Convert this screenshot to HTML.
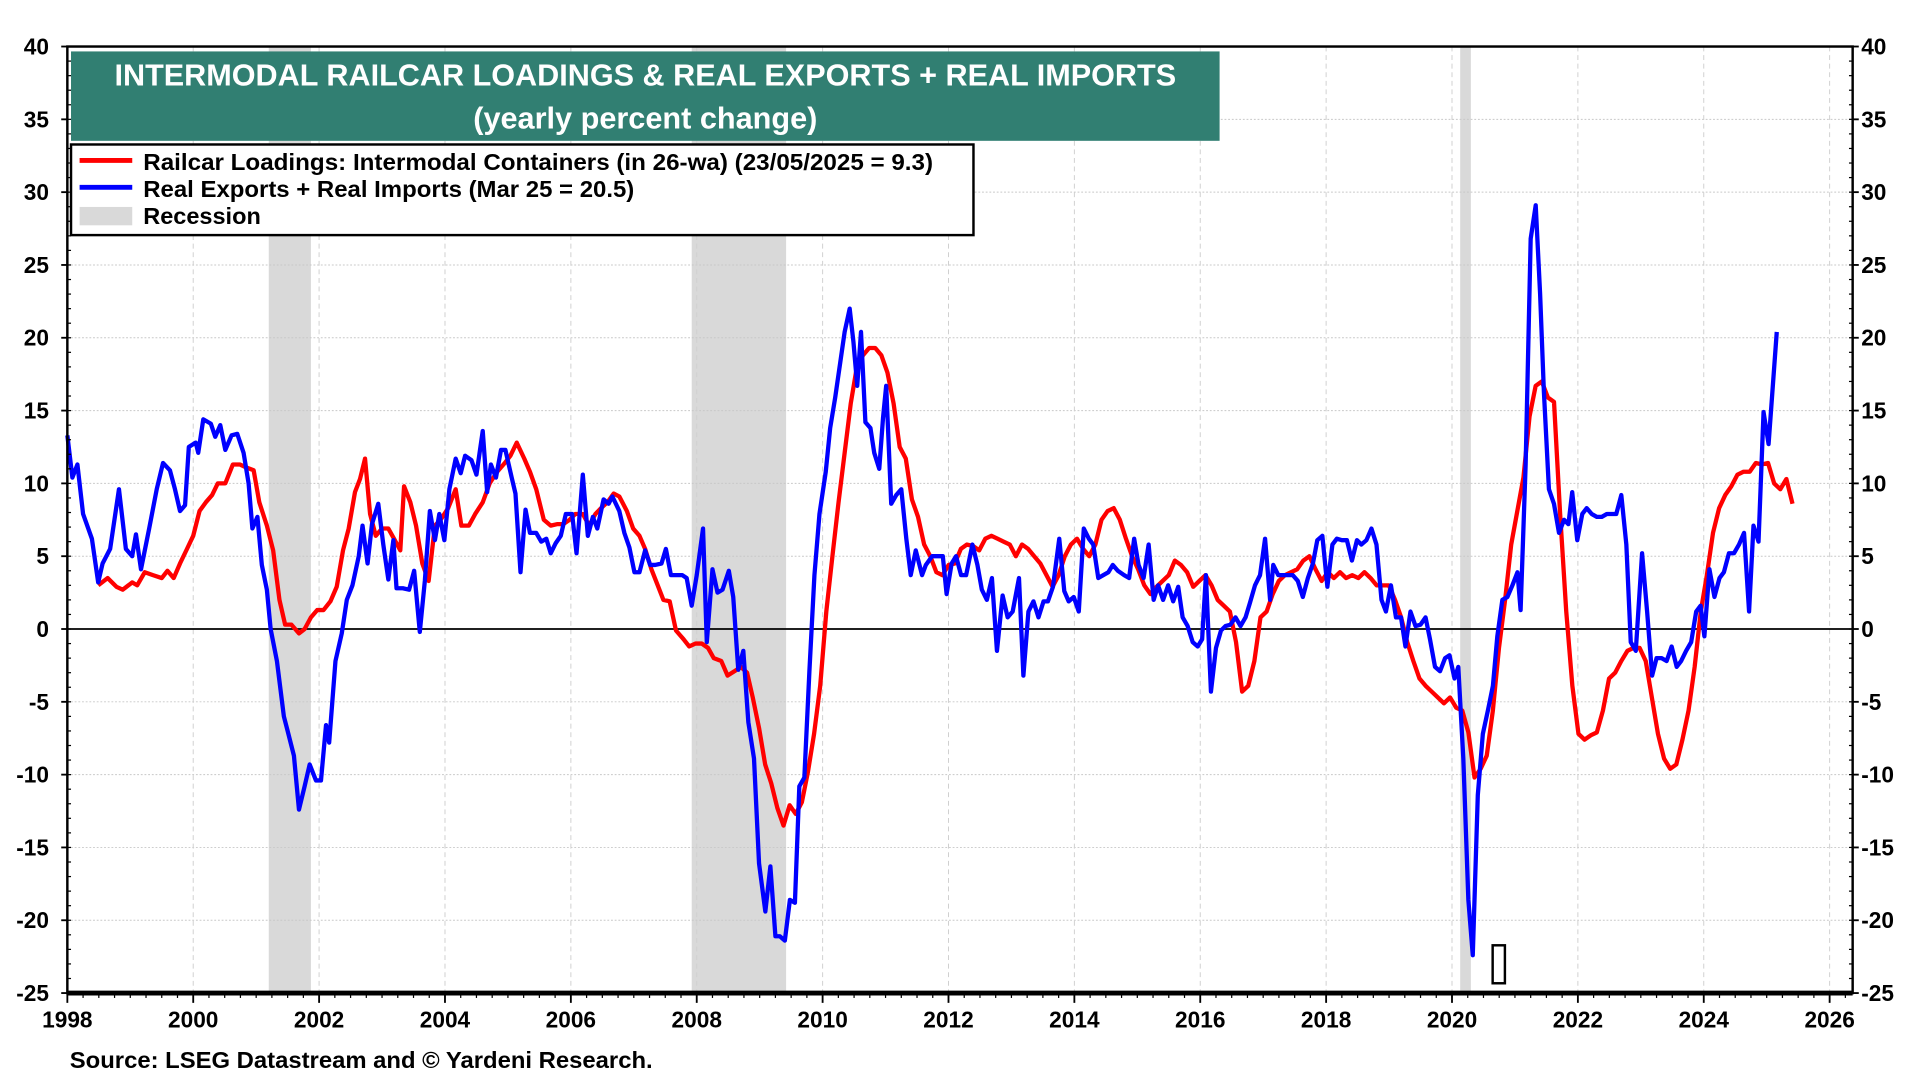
<!DOCTYPE html>
<html><head><meta charset="utf-8"><style>
html,body{margin:0;padding:0;background:#fff;}
svg{display:block;}
text{font-family:"Liberation Sans",Arial,sans-serif;font-weight:bold;}
</style></head><body>
<svg id="chart" width="1920" height="1080" viewBox="0 0 1568 882" xmlns="http://www.w3.org/2000/svg">
<g id="bg"></g>
<g id="grid"></g>
<g id="series"></g>
<g id="axes"></g>
<rect x="58" y="42" width="938" height="73" fill="#317f72"/>
<text x="527" y="70" text-anchor="middle" fill="#fff" font-size="25" textLength="867" lengthAdjust="spacingAndGlyphs">INTERMODAL RAILCAR LOADINGS &amp; REAL EXPORTS + REAL IMPORTS</text>
<text x="527" y="105" text-anchor="middle" fill="#fff" font-size="25" textLength="281" lengthAdjust="spacingAndGlyphs">(yearly percent change)</text>
<g>
<rect x="58" y="118" width="737" height="74" fill="#fff" stroke="#000" stroke-width="2"/>
<line x1="65" x2="108" y1="131" y2="131" stroke="#ff0000" stroke-width="4"/>
<text x="117" y="139" font-size="19" textLength="645" lengthAdjust="spacingAndGlyphs">Railcar Loadings: Intermodal Containers (in 26-wa)  (23/05/2025 = 9.3)</text>
<line x1="65" x2="108" y1="153" y2="153" stroke="#0000ff" stroke-width="4"/>
<text x="117" y="161" font-size="19" textLength="401" lengthAdjust="spacingAndGlyphs">Real Exports + Real Imports (Mar 25 = 20.5)</text>
<rect x="65" y="169" width="43" height="15" fill="#d9d9d9"/>
<text x="117" y="183" font-size="19" textLength="96" lengthAdjust="spacingAndGlyphs">Recession</text>
</g>
<rect x="1219" y="772" width="10" height="31" fill="none" stroke="#000" stroke-width="2"/>
<text x="57" y="872" font-size="19" textLength="476" lengthAdjust="spacingAndGlyphs">Source: LSEG Datastream and © Yardeni Research.</text>
</svg>
<script>
const yTicks = [-25,-20,-15,-10,-5,0,5,10,15,20,25,30,35,40];
const xTicks = [1998,2000,2002,2004,2006,2008,2010,2012,2014,2016,2018,2020,2022,2024,2026];
const recessionStarts = [2001.2, 2007.92, 2020.13];
const recessionEnds = [2001.87, 2009.42, 2020.3];
const blueDates = [1998.00,1998.08,1998.16,1998.25,1998.39,1998.49,1998.56,1998.68,1998.82,1998.93,1999.03,1999.09,1999.17,1999.30,1999.42,1999.52,1999.63,1999.71,1999.79,1999.87,1999.93,2000.04,2000.08,2000.16,2000.28,2000.35,2000.43,2000.51,2000.61,2000.70,2000.80,2000.88,2000.94,2001.02,2001.09,2001.17,2001.23,2001.33,2001.44,2001.50,2001.60,2001.68,2001.77,2001.85,2001.95,2002.03,2002.11,2002.16,2002.26,2002.36,2002.44,2002.53,2002.63,2002.69,2002.77,2002.84,2002.94,2003.02,2003.10,2003.18,2003.23,2003.33,2003.43,2003.51,2003.60,2003.68,2003.76,2003.84,2003.91,2003.99,2004.07,2004.17,2004.25,2004.32,2004.42,2004.50,2004.60,2004.67,2004.73,2004.81,2004.89,2004.96,2005.06,2005.12,2005.20,2005.28,2005.35,2005.45,2005.53,2005.61,2005.68,2005.76,2005.84,2005.92,2006.02,2006.09,2006.19,2006.27,2006.35,2006.42,2006.52,2006.60,2006.66,2006.77,2006.85,2006.93,2007.01,2007.09,2007.18,2007.26,2007.34,2007.44,2007.51,2007.59,2007.67,2007.77,2007.84,2007.92,2008.00,2008.10,2008.16,2008.25,2008.33,2008.41,2008.51,2008.58,2008.66,2008.74,2008.82,2008.91,2008.99,2009.09,2009.17,2009.25,2009.32,2009.40,2009.48,2009.56,2009.63,2009.71,2009.79,2009.87,2009.95,2010.05,2010.12,2010.20,2010.28,2010.35,2010.43,2010.49,2010.55,2010.61,2010.68,2010.76,2010.82,2010.90,2010.96,2011.01,2011.09,2011.17,2011.25,2011.33,2011.40,2011.48,2011.58,2011.64,2011.74,2011.81,2011.91,2011.97,2012.05,2012.12,2012.20,2012.28,2012.38,2012.46,2012.53,2012.61,2012.69,2012.77,2012.86,2012.94,2013.02,2013.12,2013.19,2013.27,2013.35,2013.43,2013.51,2013.58,2013.66,2013.76,2013.84,2013.91,2013.99,2014.07,2014.15,2014.23,2014.30,2014.38,2014.46,2014.54,2014.61,2014.69,2014.79,2014.87,2014.95,2015.02,2015.10,2015.18,2015.26,2015.33,2015.41,2015.49,2015.57,2015.65,2015.72,2015.80,2015.88,2015.96,2016.03,2016.09,2016.17,2016.25,2016.33,2016.40,2016.48,2016.56,2016.64,2016.72,2016.79,2016.87,2016.95,2017.03,2017.11,2017.16,2017.24,2017.32,2017.40,2017.47,2017.55,2017.63,2017.71,2017.79,2017.86,2017.94,2018.02,2018.10,2018.17,2018.25,2018.33,2018.41,2018.49,2018.56,2018.64,2018.72,2018.80,2018.88,2018.95,2019.03,2019.11,2019.19,2019.26,2019.34,2019.42,2019.50,2019.58,2019.65,2019.73,2019.81,2019.89,2019.96,2020.04,2020.10,2020.18,2020.26,2020.33,2020.41,2020.49,2020.57,2020.65,2020.72,2020.80,2020.88,2020.96,2021.04,2021.09,2021.17,2021.25,2021.33,2021.40,2021.46,2021.54,2021.62,2021.70,2021.78,2021.85,2021.91,2021.99,2022.07,2022.14,2022.22,2022.30,2022.38,2022.46,2022.53,2022.61,2022.69,2022.77,2022.84,2022.92,2023.02,2023.10,2023.18,2023.25,2023.33,2023.41,2023.49,2023.57,2023.64,2023.72,2023.80,2023.88,2023.95,2024.01,2024.09,2024.17,2024.25,2024.32,2024.40,2024.48,2024.56,2024.64,2024.72,2024.79,2024.87,2024.95,2025.03,2025.16];
const blueValues = [13.3,10.4,11.3,7.9,6.2,3.2,4.5,5.5,9.6,5.5,5,6.5,4.1,6.9,9.6,11.4,10.9,9.6,8.1,8.5,12.5,12.8,12.1,14.4,14.1,13.2,14,12.3,13.3,13.4,12.1,10,6.9,7.7,4.4,2.7,0,-2.2,-6,-7,-8.7,-12.4,-10.8,-9.3,-10.4,-10.4,-6.6,-7.8,-2.2,-0.3,2,3,5,7.1,4.5,7.2,8.6,5.8,3.4,6.1,2.8,2.8,2.7,4,-0.2,3.3,8.1,6.1,7.9,6.1,9.6,11.7,10.7,11.9,11.6,10.6,13.6,9.4,11.3,10.4,12.3,12.3,10.4,9.3,3.9,8.2,6.6,6.6,6,6.2,5.2,5.9,6.4,7.9,7.9,5.2,10.6,6.4,7.7,6.9,8.9,8.6,9.1,8.1,6.6,5.6,3.9,3.9,5.4,4.4,4.4,4.5,5.5,3.7,3.7,3.7,3.5,1.6,3.7,6.9,-0.9,4.1,2.5,2.7,4,2.2,-2.8,-1.5,-6.4,-8.9,-16.1,-19.4,-16.3,-21.1,-21.1,-21.4,-18.6,-18.8,-10.8,-10.2,-2.9,3.7,7.9,10.8,13.8,15.9,18.3,20.4,22,19.7,16.7,20.4,14.2,13.8,12.1,11,14.5,16.7,8.6,9.2,9.6,6.2,3.7,5.4,3.7,4.4,5,5,5,2.4,4.5,5,3.7,3.7,5.8,4.4,2.7,2,3.5,-1.5,2.3,0.8,1.2,3.5,-3.2,1.2,1.9,0.8,1.9,1.9,2.9,6.2,2.6,1.9,2.2,1.2,6.9,6.2,5.8,3.5,3.7,3.9,4.4,4,3.7,3.5,6.2,4.4,3.5,5.8,2,3,2,3,1.9,2.9,0.8,0.2,-0.9,-1.2,-0.7,3.7,-4.3,-1.3,-0.1,0.2,0.3,0.8,0.2,0.8,1.8,3,3.7,6.2,2,4.4,3.7,3.7,3.7,3.7,3.3,2.2,3.5,4.5,6.1,6.4,2.9,5.8,6.2,6.1,6.1,4.7,6.1,5.8,6.1,6.9,5.8,2,1.2,3,0.8,0.8,-1.2,1.2,0.2,0.3,0.8,-0.7,-2.6,-2.9,-2,-1.8,-3.4,-2.6,-8.9,-18.6,-22.4,-11.4,-7.2,-5.6,-3.9,-0.5,2,2.2,3,3.9,1.3,11.3,26.8,29.1,23,16.3,9.6,8.6,6.6,7.5,7.2,9.4,6.1,7.9,8.3,7.9,7.7,7.7,7.9,7.9,7.9,9.2,5.8,-0.9,-1.5,5.2,1.2,-3.2,-2,-2,-2.2,-1.2,-2.6,-2.2,-1.5,-0.9,1.2,1.6,-0.5,4.1,2.2,3.5,3.9,5.2,5.2,5.8,6.6,1.2,7.1,6,14.9,12.7,20.4];
const redEarlyDates = [1998.49,1998.64,1998.78,1998.88,1999.03,1999.11,1999.23,1999.36,1999.50,1999.59,1999.69,1999.79,1999.89,2000.00,2000.10,2000.20,2000.30,2000.39,2000.51,2000.63,2000.74,2000.84,2000.96,2001.05,2001.17,2001.27,2001.37,2001.46,2001.56,2001.68,2001.77,2001.87,2001.97,2002.07,2002.18,2002.28,2002.38,2002.47,2002.57,2002.65,2002.73,2002.81,2002.90,2003.00,2003.10,2003.19,2003.29,2003.35,2003.45,2003.54,2003.64,2003.74,2003.84,2003.93,2004.05,2004.17,2004.26,2004.38,2004.48,2004.60,2004.71,2004.83,2004.95,2005.04,2005.14,2005.26,2005.35,2005.45,2005.57,2005.68,2005.78,2005.88,2005.98,2006.07,2006.19,2006.29,2006.39,2006.48,2006.58,2006.68,2006.77,2006.89,2006.99,2007.09,2007.18,2007.28,2007.38,2007.47,2007.57,2007.67,2007.79,2007.88,2007.98,2008.08,2008.18,2008.27,2008.39,2008.49,2008.60,2008.70,2008.80,2008.89];
const redLateStart = 2008.99, redLateEnd = 2025.41;
const redValues = [3,3.5,2.9,2.7,3.2,3,3.9,3.7,3.5,4,3.5,4.5,5.4,6.4,8.1,8.7,9.2,10,10,11.3,11.3,11.1,10.9,8.7,7.1,5.4,2,0.3,0.3,-0.3,0,0.8,1.3,1.3,1.9,2.9,5.4,6.9,9.4,10.3,11.7,7.9,6.4,6.9,6.9,6.2,5.4,9.8,8.7,7.1,4.5,3.3,7.1,7.5,8.3,9.6,7.1,7.1,7.9,8.7,10,10.8,11.4,11.9,12.8,11.7,10.8,9.6,7.5,7.1,7.2,7.2,7.5,7.9,7.9,7.1,7.9,8.3,8.7,9.3,9.1,8.1,6.9,6.4,5.5,4.1,3,2,1.9,-0.1,-0.7,-1.2,-1,-1,-1.3,-2,-2.2,-3.2,-2.9,-2.6,-3,-4.7,-6.8,-9.3,-10.6,-12.3,-13.5,-12.1,-12.7,-11.9,-9.8,-7.2,-3.9,1.2,5,8.7,12.1,15.5,18,18.8,19.3,19.3,18.8,17.6,15.5,12.5,11.7,8.9,7.7,5.8,5,3.9,3.7,4.4,4.5,5.5,5.8,5.7,5.4,6.2,6.4,6.2,6,5.8,5,5.8,5.5,5,4.5,3.7,2.9,3.7,5,5.8,6.2,5.5,5,5.8,7.5,8.1,8.3,7.5,6.2,5,4.1,3,2.4,2.9,3.3,3.7,4.7,4.4,3.9,2.9,3.3,3.7,3,2,1.6,1.2,-0.9,-4.3,-3.9,-2.2,0.8,1.2,2.4,3.3,3.7,3.9,4.1,4.7,5,4.1,3.3,3.9,3.5,3.9,3.5,3.7,3.5,3.9,3.5,3,3,3,2,0.8,-0.9,-2.2,-3.4,-3.9,-4.3,-4.7,-5.1,-4.7,-5.4,-5.6,-7.1,-10.2,-9.6,-8.7,-5.6,-1.3,2,5.8,8.1,10.4,14.6,16.7,17,15.9,15.6,7.9,1.2,-3.9,-7.2,-7.6,-7.3,-7.1,-5.6,-3.4,-3,-2.2,-1.5,-1.3,-1.3,-2.2,-4.7,-7.2,-8.9,-9.6,-9.3,-7.6,-5.6,-2.6,1.2,3.7,6.6,8.3,9.2,9.8,10.6,10.8,10.8,11.4,11.3,11.4,10,9.6,10.3,8.6];

const NS = 'http://www.w3.org/2000/svg';
const L = 55, R = 1513, T = 38, B = 811;
const X0 = 1998, XPX = 51.4;
function xScale(yr){ return L + (yr - X0) * XPX; }
function yScale(v){ return B - (v + 25) * (B - T) / 65; }
function mk(tag, attrs, parent){
  const e = document.createElementNS(NS, tag);
  for (const k in attrs) e.setAttribute(k, attrs[k]);
  parent.appendChild(e); return e;
}
const bg = document.getElementById('bg'), grid = document.getElementById('grid');
const series = document.getElementById('series'), axes = document.getElementById('axes');

for (let i = 0; i < recessionStarts.length; i++) {
  const r = mk('rect', {x: xScale(recessionStarts[i]), y: T, width: xScale(recessionEnds[i]) - xScale(recessionStarts[i]), height: B - T, fill: '#d9d9d9'}, bg);
  
  
}
yTicks.forEach(v => {
  const y = yScale(v);
  if (v !== 0 && v !== -25 && v !== 40) {
    const g = mk('line', {x1: L, x2: R, y1: y, y2: y, stroke: '#c8c8c8', 'stroke-width': 0.8, 'stroke-dasharray': '1.5 1.5'}, grid);
    
    
  }
  const t1 = mk('text', {x: 40, y: y + 6.5, 'text-anchor': 'end', 'font-size': 18.5}, axes);
  t1.textContent = v;
  
  
  const t2 = mk('text', {x: 1520, y: y + 6.5, 'text-anchor': 'start', 'font-size': 18.5}, axes);
  t2.textContent = v;
  
  
  mk('line', {x1: L - 5, x2: L, y1: y, y2: y, stroke: '#000', 'stroke-width': 1.5}, axes);
  mk('line', {x1: R, x2: R + 5, y1: y, y2: y, stroke: '#000', 'stroke-width': 1.5}, axes);
});
for (let v = -25; v <= 40; v++) {
  const y = yScale(v);
  mk('line', {x1: L, x2: L + 3, y1: y, y2: y, stroke: '#000', 'stroke-width': 1}, axes);
  mk('line', {x1: R - 3, x2: R, y1: y, y2: y, stroke: '#000', 'stroke-width': 1}, axes);
}
xTicks.forEach(yr => {
  const x = xScale(yr);
  if (yr > 1998) {
    const g = mk('line', {x1: x, x2: x, y1: T, y2: B, stroke: '#d0d0d0', 'stroke-width': 0.8, 'stroke-dasharray': '4 3'}, grid);
    
    
  }
  const t = mk('text', {x: x, y: 839, 'text-anchor': 'middle', 'font-size': 18.5}, axes);
  t.textContent = yr;
  
  
  mk('line', {x1: x, x2: x, y1: B, y2: B + 8, stroke: '#000', 'stroke-width': 1.5}, axes);
});
for (let q = 1998; q < 2026.4; q += 0.25) {
  const x = xScale(q);
  mk('line', {x1: x, x2: x, y1: B, y2: B + 4, stroke: '#000', 'stroke-width': 1}, axes);
}
const zl = mk('line', {x1: L, x2: R, y1: yScale(0), y2: yScale(0), stroke: '#000', 'stroke-width': 1.5}, grid);


const frame = mk('rect', {x: L, y: T, width: R - L, height: B - T, fill: 'none', stroke: '#000', 'stroke-width': 2}, axes);


mk('line', {x1: L, x2: R, y1: B, y2: B, stroke: '#000', 'stroke-width': 4}, axes);

function pathFrom(dates, vals){
  return vals.map((v, i) => (i ? 'L' : 'M') + xScale(dates[i]).toFixed(2) + ',' + yScale(v).toFixed(2)).join(' ');
}
const nLate = redValues.length - redEarlyDates.length;
const redDates = redEarlyDates.slice();
for (let k = 0; k < nLate; k++) redDates.push(redLateStart + k * (redLateEnd - redLateStart) / (nLate - 1));

const red = mk('path', {d: pathFrom(redDates, redValues), fill: 'none', stroke: '#ff0000', 'stroke-width': 3.5, 'stroke-linejoin': 'round'}, series);


const blue = mk('path', {d: pathFrom(blueDates, blueValues), fill: 'none', stroke: '#0000ff', 'stroke-width': 3.5, 'stroke-linejoin': 'round'}, series);


</script>
</body></html>
